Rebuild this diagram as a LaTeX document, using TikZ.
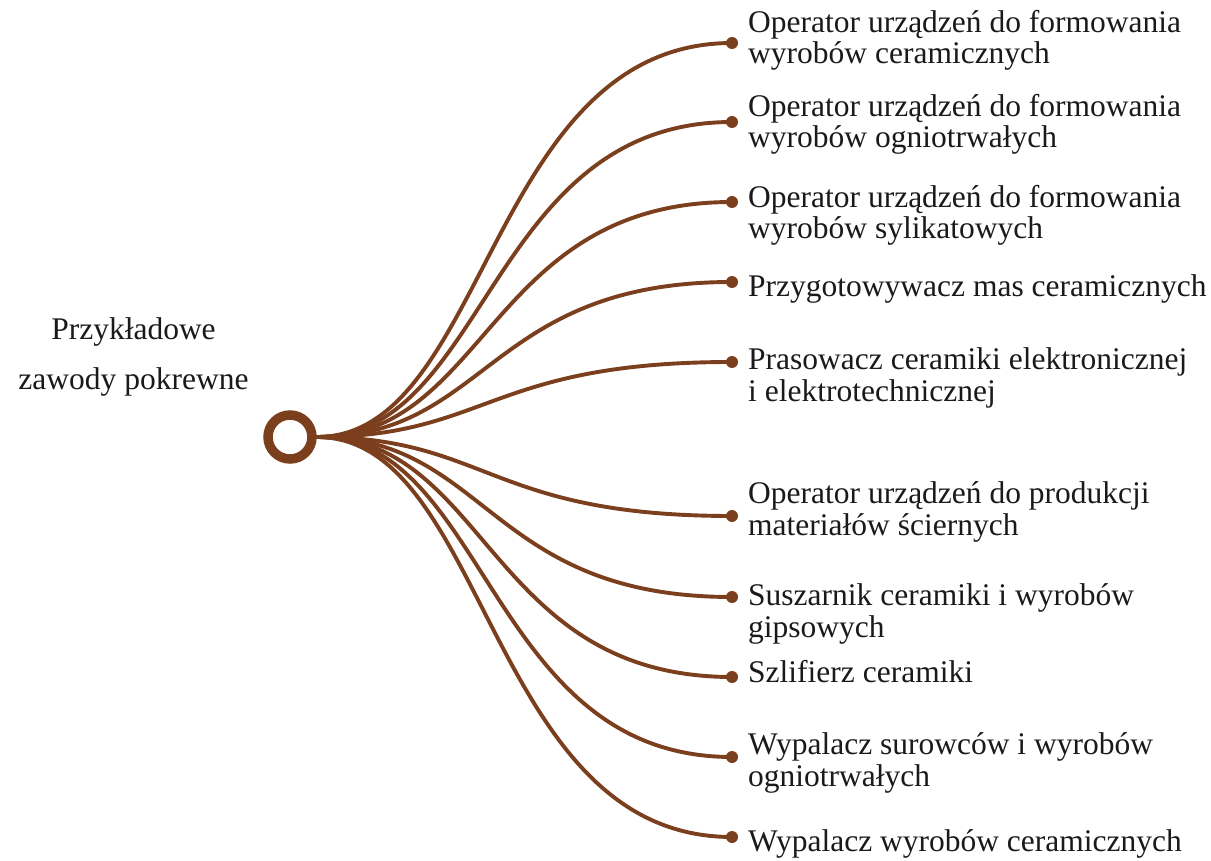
\documentclass[tikz,border=0pt]{standalone}
\usepackage{fontspec}
\setmainfont{Liberation Serif}
\definecolor{brn}{RGB}{123,63,30}
\definecolor{ink}{RGB}{26,26,26}
\begin{document}
\begin{tikzpicture}[x=1pt,y=-1pt,
  lbl/.style={anchor=base west, inner sep=0pt, align=left, text=ink,
    font=\fontsize{31.5}{31.5}\selectfont},
  ttl/.style={anchor=base, inner sep=0pt, align=center, text=ink,
    font=\fontsize{31.5}{50}\selectfont},
  dotnode/.style={circle, fill=brn, inner sep=0pt, minimum size=12pt},
  hubnode/.style={circle, draw=brn, line width=9.5pt, inner sep=0pt, minimum size=44pt},
  conn/.style={draw=brn, line width=3.9pt, line cap=round}]
\useasboundingbox (0,0) rectangle (1211,861);

\node[hubnode] (hub) at (290,437) {};
% base anchor of a multi-line node lies on its last line
\node[ttl] (title) at (133.5,389) {Przykładowe\\zawody pokrewne};

% dots
\node[dotnode] (d1) at (732,43) {};
\node[dotnode] (d2) at (732,122) {};
\node[dotnode] (d3) at (732,202) {};
\node[dotnode] (d4) at (732,282) {};
\node[dotnode] (d5) at (732,362) {};
\node[dotnode] (d6) at (732,516) {};
\node[dotnode] (d7) at (732,597) {};
\node[dotnode] (d8) at (732,677) {};
\node[dotnode] (d9) at (732,757) {};
\node[dotnode] (d10) at (732,837) {};

% labels
\node[lbl] (t1) at (748,64) {Operator urządzeń do formowania\\wyrobów ceramicznych};
\node[lbl] (t2) at (748,148) {Operator urządzeń do formowania\\wyrobów ogniotrwałych};
\node[lbl] (t3) at (748,239) {Operator urządzeń do formowania\\wyrobów sylikatowych};
\node[lbl] (t4) at (748,297) {Przygotowywacz mas ceramicznych};
\node[lbl] (t5) at (748,401) {Prasowacz ceramiki elektronicznej\\i elektrotechnicznej};
\node[lbl] (t6) at (748,535) {Operator urządzeń do produkcji\\materiałów ściernych};
\node[lbl] (t7) at (748,637) {Suszarnik ceramiki i wyrobów\\gipsowych};
\node[lbl] (t8) at (748,682) {Szlifierz ceramiki};
\node[lbl] (t9) at (748,786) {Wypalacz surowców i wyrobów\\ogniotrwałych};
\node[lbl] (t10) at (748,851) {Wypalacz wyrobów ceramicznych};

% connectors
\foreach \i/\yy in {1/43,2/122,3/202,4/282,5/362,6/516,7/597,8/677,9/757,10/837}{
  \draw[conn] (hub.east) .. controls (488,437) and (488,\yy) .. (d\i.center);
}
\end{tikzpicture}
\end{document}
